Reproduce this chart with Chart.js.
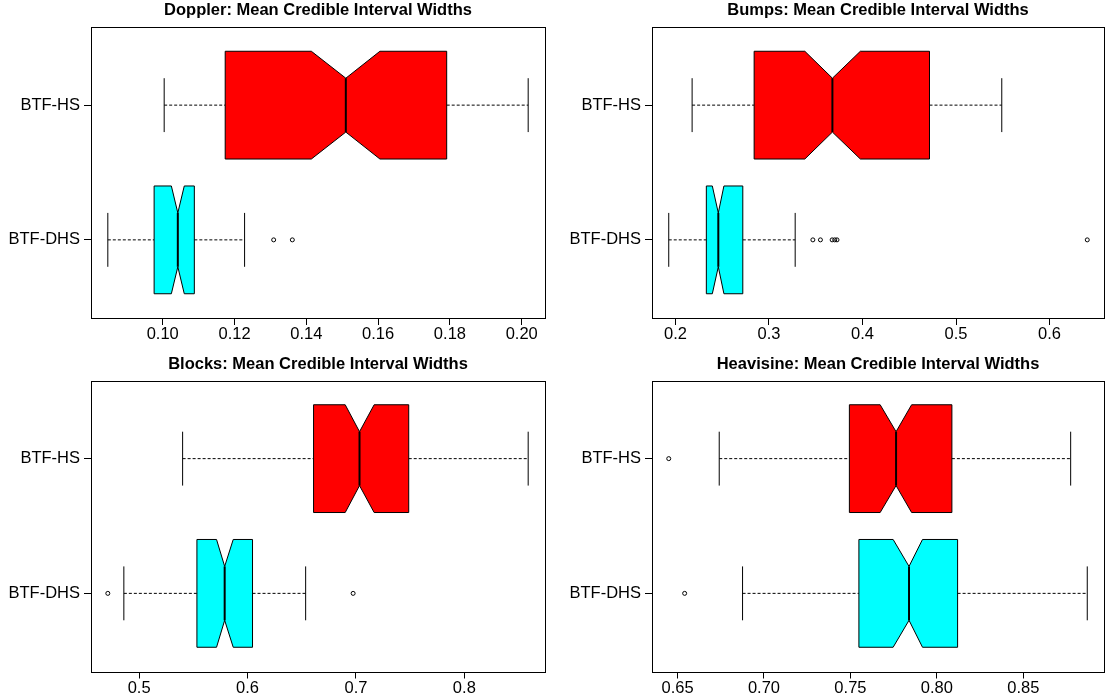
<!DOCTYPE html>
<html lang="en">
<head>
<meta charset="utf-8" />
<title>Mean Credible Interval Widths</title>
<script src="https://cdn.jsdelivr.net/npm/chart.js@4.4.1/dist/chart.umd.min.js"></script>
<style>
  html,body{margin:0;padding:0;background:#fff;}
  body{width:1107px;height:698px;position:relative;overflow:hidden;}
  canvas{position:absolute;}
</style>
</head>
<body>
<canvas id="doppler" width="553" height="349" style="left:0;top:0"></canvas>
<canvas id="bumps" width="554" height="349" style="left:553px;top:0"></canvas>
<canvas id="blocks" width="553" height="349" style="left:0;top:349px"></canvas>
<canvas id="heavisine" width="554" height="349" style="left:553px;top:349px"></canvas>
<script>
// box stats: lower whisker, Q1, notch low, median, notch high, Q3, upper whisker
const groups = ['BTF-DHS', 'BTF-HS'];

const dopplerTicks = ['0.10', '0.12', '0.14', '0.16', '0.18', '0.20'];
const dopplerHS = [0.1004, 0.1174, 0.1414, 0.1510, 0.1605, 0.1791, 0.2018];
const dopplerDHS = [0.0847, 0.0976, 0.1024, 0.1042, 0.1060, 0.1088, 0.1228];
const dopplerHSOut = [];
const dopplerDHSOut = [0.1309, 0.1361];

const bumpsTicks = ['0.2', '0.3', '0.4', '0.5', '0.6'];
const bumpsHS = [0.2178, 0.2841, 0.3383, 0.3678, 0.3977, 0.4716, 0.5489];
const bumpsDHS = [0.1928, 0.2330, 0.2394, 0.2458, 0.2518, 0.2720, 0.3280];
const bumpsHSOut = [];
const bumpsDHSOut = [0.3469, 0.3550, 0.3675, 0.3703, 0.3727, 0.6403];

const blocksTicks = ['0.5', '0.6', '0.7', '0.8'];
const blocksHS = [0.5401, 0.6609, 0.6901, 0.7033, 0.7168, 0.7487, 0.8589];
const blocksDHS = [0.4859, 0.5533, 0.5714, 0.5789, 0.5868, 0.6046, 0.6536];
const blocksHSOut = [];
const blocksDHSOut = [0.4711, 0.6974];

const heavisineTicks = ['0.65', '0.70', '0.75', '0.80', '0.85'];
const heavisineHS = [0.6741, 0.7494, 0.7672, 0.7764, 0.7854, 0.8087, 0.8774];
const heavisineDHS = [0.6876, 0.7549, 0.7747, 0.7839, 0.7917, 0.8120, 0.8870];
const heavisineHSOut = [0.6449];
const heavisineDHSOut = [0.6541];

Chart.defaults.font.family = "'Liberation Sans', Arial, Helvetica, sans-serif";
Chart.defaults.color = '#000';

// draws R-style notched boxes + frame using the chart's own scales
const notchedBoxes = {
  id: 'notchedBoxes',
  beforeDatasetsDraw(chart, args, opts) {
    const { ctx, chartArea: a, scales: { x, y } } = chart;
    ctx.save();
    opts.boxes.forEach(b => {
      const [wLo, q1, cLo, med, cHi, q3, wHi] = b.stats.map(v => x.getPixelForValue(v));
      const top = y.getPixelForValue(b.pos + 0.4), bot = y.getPixelForValue(b.pos - 0.4);
      const nTop = y.getPixelForValue(b.pos + 0.2), nBot = y.getPixelForValue(b.pos - 0.2);
      const mid = y.getPixelForValue(b.pos);
      ctx.strokeStyle = '#000';
      ctx.lineWidth = 1;
      ctx.setLineDash([3, 2]);
      ctx.beginPath();
      ctx.moveTo(wLo, mid); ctx.lineTo(q1, mid);
      ctx.moveTo(q3, mid); ctx.lineTo(wHi, mid);
      ctx.stroke();
      ctx.setLineDash([]);
      ctx.beginPath();
      ctx.moveTo(wLo, nTop); ctx.lineTo(wLo, nBot);
      ctx.moveTo(wHi, nTop); ctx.lineTo(wHi, nBot);
      ctx.stroke();
      ctx.beginPath();
      ctx.moveTo(q1, top); ctx.lineTo(cLo, top); ctx.lineTo(med, nTop); ctx.lineTo(cHi, top); ctx.lineTo(q3, top);
      ctx.lineTo(q3, bot); ctx.lineTo(cHi, bot); ctx.lineTo(med, nBot); ctx.lineTo(cLo, bot); ctx.lineTo(q1, bot);
      ctx.closePath();
      ctx.fillStyle = b.fill;
      ctx.fill();
      ctx.stroke();
      ctx.lineWidth = 2;
      ctx.beginPath();
      ctx.moveTo(med, nTop); ctx.lineTo(med, nBot);
      ctx.stroke();
    });
    ctx.lineWidth = 1;
    ctx.strokeStyle = '#000';
    ctx.strokeRect(Math.round(a.left) + 0.5, Math.round(a.top) + 0.5, Math.round(a.right - a.left), Math.round(a.bottom - a.top));
    ctx.restore();
  }
};

function makePanel(id, title, tickLabels, hs, dhs, hsOut, dhsOut, frame) {
  const all = hs.concat(dhs, hsOut, dhsOut);
  const lo = Math.min(...all), hi = Math.max(...all), pad = (hi - lo) * 0.04;
  const points = hsOut.map(v => ({ x: v, y: 2 })).concat(dhsOut.map(v => ({ x: v, y: 1 })));
  const tickGrid = { drawOnChartArea: false, drawTicks: true, tickLength: 7, color: '#000' };
  new Chart(document.getElementById(id), {
    type: 'scatter',
    data: { datasets: [{ data: points, pointRadius: 2, pointHoverRadius: 2, borderColor: '#000', borderWidth: 1, backgroundColor: 'rgba(0,0,0,0)' }] },
    options: {
      responsive: false, animation: false, devicePixelRatio: 1, events: [],
      layout: { padding: frame.padding },
      plugins: {
        legend: { display: false },
        tooltip: { enabled: false },
        title: { display: true, text: title, fullSize: false, color: '#000', font: { size: 16.5, weight: 'bold' }, padding: frame.titlePad },
        notchedBoxes: { boxes: [{ pos: 2, stats: hs, fill: '#ff0000' }, { pos: 1, stats: dhs, fill: '#00ffff' }] }
      },
      scales: {
        x: {
          type: 'linear', min: lo - pad, max: hi + pad,
          afterBuildTicks: s => { s.ticks = tickLabels.map(t => ({ value: parseFloat(t) })); },
          afterFit: s => { s.height = 26; },
          ticks: { autoSkip: false, maxRotation: 0, font: { size: 16.5 }, color: '#000', padding: 0, callback: (v, i) => tickLabels[i] },
          grid: tickGrid,
          border: { display: false }
        },
        y: {
          type: 'linear', min: 0.42, max: 2.58,
          afterBuildTicks: s => { s.ticks = groups.map((g, i) => ({ value: i + 1 })); },
          afterFit: s => { s.width = 90; },
          ticks: { autoSkip: false, font: { size: 16.5 }, color: '#000', padding: 4, callback: v => groups[v - 1] },
          grid: tickGrid,
          border: { display: false }
        }
      }
    },
    plugins: [notchedBoxes]
  });
}

const topFrameL = { padding: { left: 1, right: 8, top: 0, bottom: 5 }, titlePad: { top: 1, bottom: 6.2 } };
const topFrameR = { padding: { left: 9, right: 1, top: 0, bottom: 5 }, titlePad: { top: 1, bottom: 6.2 } };
const botFrameL = { padding: { left: 1, right: 8, top: 0, bottom: 0.5 }, titlePad: { top: 5.2, bottom: 6.5 } };
const botFrameR = { padding: { left: 9, right: 1, top: 0, bottom: 0.5 }, titlePad: { top: 5.2, bottom: 6.5 } };

makePanel('doppler', 'Doppler: Mean Credible Interval Widths', dopplerTicks, dopplerHS, dopplerDHS, dopplerHSOut, dopplerDHSOut, topFrameL);
makePanel('bumps', 'Bumps: Mean Credible Interval Widths', bumpsTicks, bumpsHS, bumpsDHS, bumpsHSOut, bumpsDHSOut, topFrameR);
makePanel('blocks', 'Blocks: Mean Credible Interval Widths', blocksTicks, blocksHS, blocksDHS, blocksHSOut, blocksDHSOut, botFrameL);
makePanel('heavisine', 'Heavisine: Mean Credible Interval Widths', heavisineTicks, heavisineHS, heavisineDHS, heavisineHSOut, heavisineDHSOut, botFrameR);
</script>
</body>
</html>
